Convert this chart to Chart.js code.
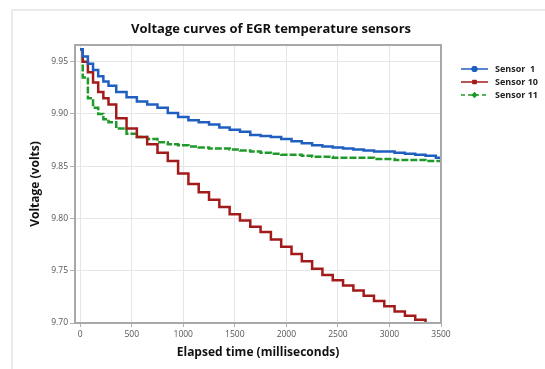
<!DOCTYPE html>
<html>
<head>
<meta charset="utf-8">
<script src="https://cdn.jsdelivr.net/npm/chart.js@4"></script>
<style>
  html, body { margin: 0; padding: 0; background: #fff; }
  #wrap { width: 545px; height: 369px; position: relative; }
</style>
</head>
<body>
<div id="wrap"><canvas id="chart"></canvas></div>
<script>
// Elapsed time (ms) and sensor voltages
const timeMs = [0, 50, 100, 150, 200, 250, 300, 400, 500, 600, 700, 800, 900, 1000,
    1100, 1200, 1300, 1400, 1500, 1600, 1700, 1800, 1900, 2000, 2100, 2200, 2300, 2400,
    2500, 2600, 2700, 2800, 2900, 3000, 3100, 3200, 3300, 3400, 3500];
const sensor1 = [9.962, 9.955, 9.948, 9.942, 9.936, 9.931, 9.927, 9.921, 9.916, 9.912, 9.909, 9.906, 9.901, 9.897,
    9.894, 9.892, 9.890, 9.887, 9.885, 9.883, 9.880, 9.879, 9.878, 9.876, 9.874, 9.872, 9.870, 9.869,
    9.868, 9.867, 9.866, 9.865, 9.864, 9.864, 9.863, 9.862, 9.861, 9.860, 9.858];
const sensor10 = [9.962, 9.950, 9.940, 9.930, 9.921, 9.915, 9.909, 9.896, 9.886, 9.878, 9.871, 9.863, 9.855, 9.843,
    9.833, 9.825, 9.818, 9.811, 9.804, 9.798, 9.792, 9.787, 9.780, 9.773, 9.766, 9.759, 9.752, 9.746,
    9.741, 9.736, 9.731, 9.726, 9.721, 9.716, 9.711, 9.707, 9.703, 9.699, 9.694];
const sensor11 = [9.962, 9.935, 9.915, 9.906, 9.900, 9.895, 9.892, 9.886, 9.881, 9.878, 9.876, 9.873, 9.871, 9.870,
    9.869, 9.868, 9.867, 9.867, 9.866, 9.865, 9.864, 9.863, 9.862, 9.861, 9.861, 9.860, 9.859, 9.859,
    9.858, 9.858, 9.858, 9.858, 9.857, 9.857, 9.856, 9.856, 9.856, 9.855, 9.855];
const seriesNames = ['Sensor  1', 'Sensor 10', 'Sensor 11'];
const xTicks = [0, 500, 1000, 1500, 2000, 2500, 3000, 3500];
const yTicks = [9.70, 9.75, 9.80, 9.85, 9.90, 9.95];

const colors = ['#1f5fc0', '#a31a1a', '#1f9a2a'];
const markers = ['circle', 'rect', 'rectRot'];
const FONT = "'Open Sans', 'Noto Sans', sans-serif";

function toPoints(values) {
    return values.map((v, i) => ({ x: timeMs[i], y: v }));
}

// Outer frame, plot border, title and legend
const decorations = {
    id: 'decorations',
    beforeDraw(chart) {
        const ctx = chart.ctx;
        ctx.save();
        ctx.strokeStyle = '#e4e4e4';
        ctx.lineWidth = 1.5;
        ctx.beginPath();
        ctx.moveTo(12, 369);
        ctx.lineTo(12, 10);
        ctx.lineTo(545, 10);
        ctx.stroke();
        ctx.restore();
    },
    afterDraw(chart) {
        const ctx = chart.ctx;
        const a = chart.chartArea;
        ctx.save();
        ctx.strokeStyle = '#a8a8a8';
        ctx.lineWidth = 2;
        ctx.strokeRect(a.left, a.top, a.right - a.left, a.bottom - a.top);

        ctx.fillStyle = '#111';
        ctx.font = 'bold 13px ' + FONT;
        ctx.textAlign = 'center';
        ctx.textBaseline = 'middle';
        ctx.fillText('Voltage curves of EGR temperature sensors', 271, 29);

        // legend
        const rows = [69, 82, 95];
        ctx.font = 'bold 9px ' + FONT;
        ctx.textAlign = 'left';
        rows.forEach((y, i) => {
            ctx.strokeStyle = colors[i];
            ctx.fillStyle = colors[i];
            ctx.lineWidth = 1.5;
            ctx.setLineDash(i === 2 ? [4, 3] : []);
            ctx.beginPath();
            ctx.moveTo(461, y);
            ctx.lineTo(488, y);
            ctx.stroke();
            ctx.setLineDash([]);
            Chart.helpers.drawPoint(ctx, { pointStyle: markers[i], radius: 3, rotation: 0, borderWidth: 0 }, 474.5, y);
            ctx.fill();
            ctx.fillStyle = '#222';
            ctx.fillText(seriesNames[i], 495, y + 0.5);
        });
        ctx.restore();
    }
};

const datasets = [sensor1, sensor10, sensor11].map((vals, i) => ({
    label: seriesNames[i],
    data: toPoints(vals),
    borderColor: colors[i],
    backgroundColor: colors[i],
    borderWidth: 2.5,
    borderDash: i === 2 ? [7, 2] : [],
    stepped: 'middle',
    pointRadius: 0,
    fill: false
}));

new Chart(document.getElementById('chart'), {
    type: 'line',
    data: { datasets: datasets },
    options: {
        responsive: true,
        maintainAspectRatio: false,
        animation: false,
        layout: { padding: { top: 45, right: 104, left: 0, bottom: 0 } },
        plugins: {
            legend: { display: false },
            title: { display: false },
            tooltip: { enabled: false }
        },
        scales: {
            x: {
                type: 'linear',
                min: -50,
                max: 3500,
                afterBuildTicks: s => { s.ticks = xTicks.map(v => ({ value: v })); },
                afterFit: s => { s.height = 46; },
                grid: { color: '#e6e6e6', tickLength: 4, tickColor: '#b0b0b0' },
                border: { display: false },
                ticks: {
                    font: { family: FONT, size: 8.5 },
                    color: '#555',
                    padding: 2,
                    maxRotation: 0,
                    callback: v => String(v)
                },
                title: {
                    display: true,
                    text: 'Elapsed time (milliseconds)',
                    color: '#111',
                    font: { family: FONT, size: 12, weight: 'bold' },
                    padding: { top: 0, bottom: 9 }
                }
            },
            y: {
                min: 9.70,
                max: 9.966,
                afterBuildTicks: s => { s.ticks = yTicks.map(v => ({ value: v })); },
                afterFit: s => { s.width = 75; },
                grid: { color: '#e6e6e6', tickLength: 5, tickColor: '#b0b0b0' },
                border: { display: false },
                ticks: {
                    font: { family: FONT, size: 8.5 },
                    color: '#555',
                    padding: 2,
                    callback: v => v.toFixed(2)
                },
                title: {
                    display: true,
                    text: 'Voltage (volts)',
                    color: '#111',
                    font: { family: FONT, size: 12, weight: 'bold' },
                    padding: { top: 28, bottom: 0 }
                }
            }
        }
    },
    plugins: [decorations]
});
</script>
</body>
</html>
